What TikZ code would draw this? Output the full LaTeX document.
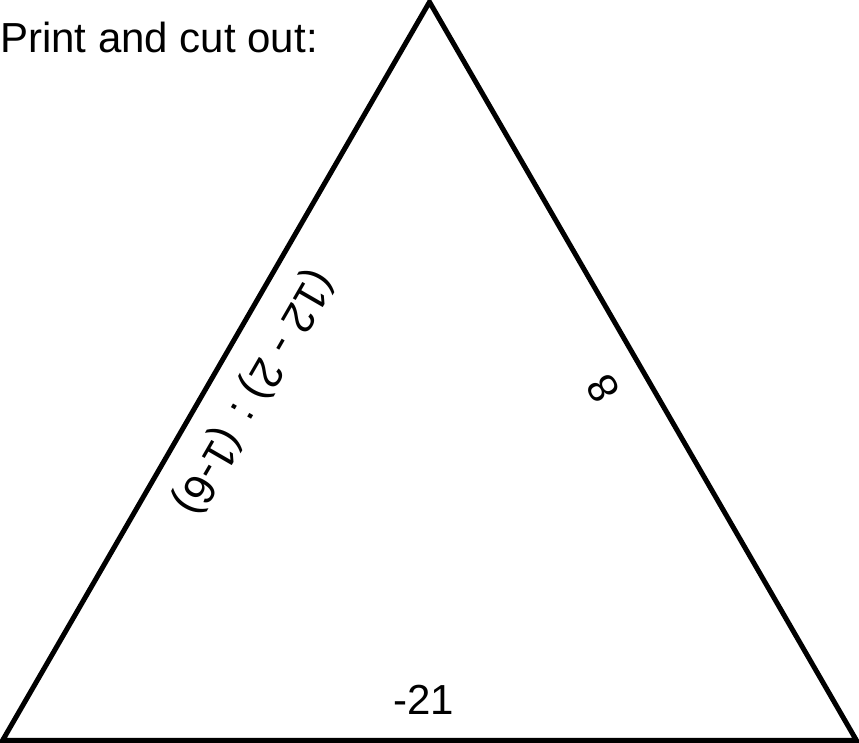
\documentclass[tikz,border=0pt]{standalone}
\usepackage{fontspec}
\setmainfont{Liberation Sans}
\begin{document}
\begin{tikzpicture}[x=1pt,y=1pt,
  lbl/.style={inner sep=0pt,font=\fontsize{42}{48}\selectfont},
  edge/.style={line width=5pt,line join=miter}]
\useasboundingbox (0,0) rectangle (859,743);
\coordinate (bl) at (2.5,2.5);
\coordinate (br) at (856.5,2.5);
\coordinate (top) at (429.5,741);
\draw[edge] (bl) -- (top) -- (br) -- cycle;
\node[lbl,anchor=base west] (title) at (0,690) {Print and cut out:};
\node[lbl,rotate=240,font=\fontsize{44}{48}\selectfont] (left) at (253,351) {(12 - 2) : (1-6)};
\node[lbl,rotate=120] (right) at (603,354) {8};
\node[lbl,anchor=base] (bottom) at (424,28) {-21};
\end{tikzpicture}
\end{document}
